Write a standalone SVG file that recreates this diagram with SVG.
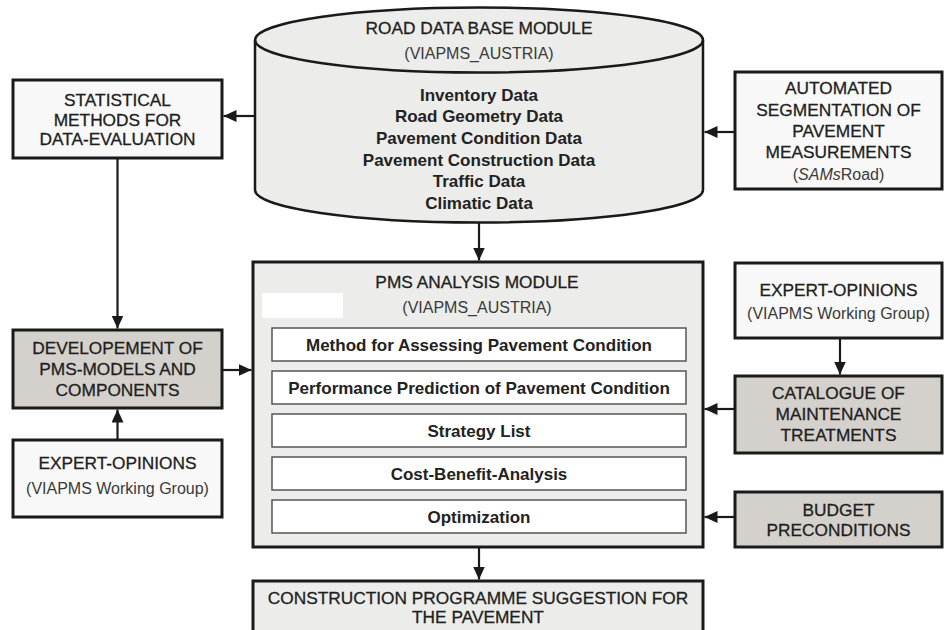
<svg xmlns="http://www.w3.org/2000/svg" width="945" height="630" viewBox="0 0 945 630">
<defs>
<style>
.box{stroke:#1a1a1a;stroke-width:3}
.w{fill:#f8f8f8}
.g{fill:#d4d0cc}
.l{fill:#ececea}
.t{font-family:"Liberation Sans",Arial,sans-serif;font-size:17.3px;fill:#1e1e1e;stroke:#1e1e1e;stroke-width:0.3;text-anchor:middle}
.s{font-family:"Liberation Sans",Arial,sans-serif;font-size:16px;fill:#3a3a3a;text-anchor:middle}
.b{font-family:"Liberation Sans",Arial,sans-serif;font-size:17px;font-weight:bold;fill:#222;text-anchor:middle}
.inner{fill:#ffffff;stroke:#555;stroke-width:1.5}
.c{stroke:#1a1a1a;stroke-width:2.2;fill:none;marker-end:url(#ah)}
</style>
<marker id="ah" markerUnits="userSpaceOnUse" markerWidth="13" markerHeight="12" refX="13" refY="6" orient="auto">
<path d="M0,0 L13,6 L0,12 Z" fill="#1a1a1a"/>
</marker>
</defs>

<g id="roaddb">
<path d="M255,40 L255,190 A224,32.5 0 0 0 703,190 L703,40 A224,32.5 0 0 0 255,40 Z" class="l" stroke="#1a1a1a" stroke-width="2.5"/>
<path d="M255,40 A224,32.5 0 0 0 703,40" fill="none" stroke="#1a1a1a" stroke-width="2.5"/>
<text class="t" x="479" y="34">ROAD DATA BASE MODULE</text>
<text class="s" x="479" y="59">(VIAPMS_AUSTRIA)</text>
<text class="b" x="479" y="101">Inventory Data</text>
<text class="b" x="479" y="122">Road Geometry Data</text>
<text class="b" x="479" y="144">Pavement Condition Data</text>
<text class="b" x="479" y="166">Pavement Construction Data</text>
<text class="b" x="479" y="187">Traffic Data</text>
<text class="b" x="479" y="209">Climatic Data</text>
</g>

<g id="statistical">
<rect class="box w" x="13" y="80" width="209" height="78"/>
<text class="t" x="117.5" y="106">STATISTICAL</text>
<text class="t" x="117.5" y="126">METHODS FOR</text>
<text class="t" x="117.5" y="145">DATA-EVALUATION</text>
</g>

<g id="automated">
<rect class="box w" x="735" y="72" width="207" height="117"/>
<text class="t" x="838.5" y="94">AUTOMATED</text>
<text class="t" x="838.5" y="116">SEGMENTATION OF</text>
<text class="t" x="838.5" y="137">PAVEMENT</text>
<text class="t" x="838.5" y="158">MEASUREMENTS</text>
<text class="s" x="838.5" y="180">(<tspan font-style="italic">SAMs</tspan>Road)</text>
</g>

<g id="development">
<rect class="box g" x="13" y="330" width="209" height="78"/>
<text class="t" x="117.5" y="354">DEVELOPEMENT OF</text>
<text class="t" x="117.5" y="375">PMS-MODELS AND</text>
<text class="t" x="117.5" y="396">COMPONENTS</text>
</g>

<g id="expert-left">
<rect class="box w" x="13" y="440" width="209" height="77"/>
<text class="t" x="117.5" y="469">EXPERT-OPINIONS</text>
<text class="s" x="117.5" y="494">(VIAPMS Working Group)</text>
</g>

<g id="pms">
<rect class="box l" x="253" y="262" width="450" height="285"/>
<rect x="262" y="293" width="81" height="25" fill="#ffffff"/>
<text class="t" x="477" y="288">PMS ANALYSIS MODULE</text>
<text class="s" x="477" y="313">(VIAPMS_AUSTRIA)</text>
<rect class="inner" x="272" y="328" width="414" height="33"/>
<text class="b" x="479" y="350.5">Method for Assessing Pavement Condition</text>
<rect class="inner" x="272" y="371" width="414" height="33"/>
<text class="b" x="479" y="393.5">Performance Prediction of Pavement Condition</text>
<rect class="inner" x="272" y="414" width="414" height="33"/>
<text class="b" x="479" y="436.5">Strategy List</text>
<rect class="inner" x="272" y="457" width="414" height="33"/>
<text class="b" x="479" y="479.5">Cost-Benefit-Analysis</text>
<rect class="inner" x="272" y="500" width="414" height="33"/>
<text class="b" x="479" y="522.5">Optimization</text>
</g>

<g id="expert-right">
<rect class="box w" x="735" y="263" width="207" height="75"/>
<text class="t" x="838.5" y="296">EXPERT-OPINIONS</text>
<text class="s" x="838.5" y="319">(VIAPMS Working Group)</text>
</g>

<g id="catalogue">
<rect class="box g" x="735" y="376" width="207" height="77"/>
<text class="t" x="838.5" y="399">CATALOGUE OF</text>
<text class="t" x="838.5" y="420">MAINTENANCE</text>
<text class="t" x="838.5" y="441">TREATMENTS</text>
</g>

<g id="budget">
<rect class="box g" x="735" y="492" width="207" height="55"/>
<text class="t" x="838.5" y="516">BUDGET</text>
<text class="t" x="838.5" y="536">PRECONDITIONS</text>
</g>

<g id="construction">
<rect class="box l" x="253" y="581" width="450" height="60"/>
<text class="t" x="478" y="604">CONSTRUCTION PROGRAMME SUGGESTION FOR</text>
<text class="t" x="478" y="623">THE PAVEMENT</text>
</g>

<g id="connectors">
<path class="c" d="M255,116 L223.5,116"/>
<path class="c" d="M735,132 L704.5,132"/>
<path class="c" d="M479,222 L479,260.5"/>
<path class="c" d="M117.5,158 L117.5,328.5"/>
<path class="c" d="M117.5,440 L117.5,409.5"/>
<path class="c" d="M222,370 L251.5,370"/>
<path class="c" d="M840,338 L840,374.5"/>
<path class="c" d="M735,409 L704.5,409"/>
<path class="c" d="M735,517 L704.5,517"/>
<path class="c" d="M479,547 L479,579.5"/>
</g>
</svg>
